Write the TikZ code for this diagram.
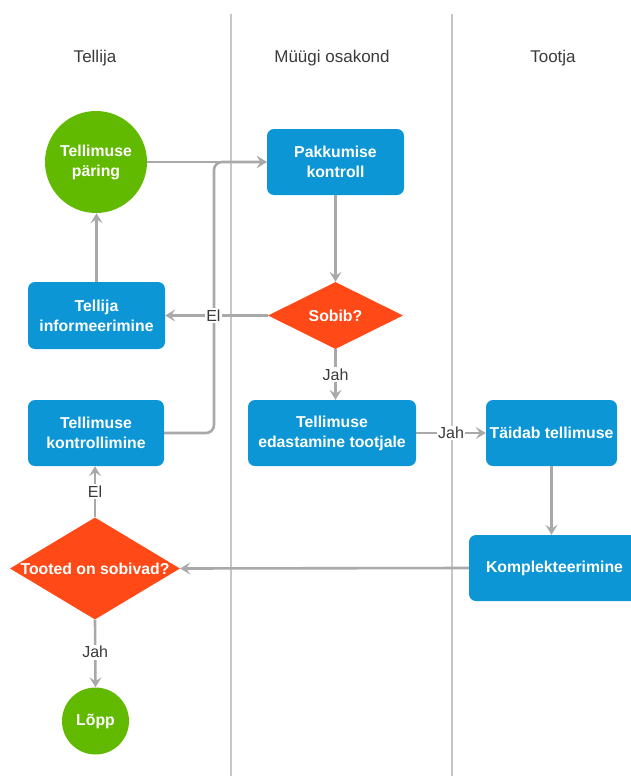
\documentclass[tikz,border=0pt]{standalone}
\usepackage{fontspec}
\setmainfont{Liberation Sans}
\usetikzlibrary{shapes.geometric,arrows.meta}
\definecolor{lanegray}{HTML}{C6C6C6}
\definecolor{titlegray}{HTML}{3A3A3A}
\definecolor{taskblue}{HTML}{0C96D6}
\definecolor{startgreen}{HTML}{62BA00}
\definecolor{decisionred}{HTML}{FF4A18}
\definecolor{arrowgray}{HTML}{A9A9A9}
\definecolor{labelgray}{HTML}{3A3A3A}
\begin{document}
\begin{tikzpicture}[x=1pt,y=-1pt,
  lane/.style={draw=lanegray,line width=1.2pt},
  lanetitle/.style={text=titlegray,font=\fontsize{17}{19}\selectfont,inner sep=0pt},
  nodetext/.style={text=white,font=\bfseries\fontsize{15.8}{20}\selectfont,align=center},
  task/.style={nodetext,fill=taskblue,rounded corners=7pt,inner sep=0pt,minimum height=66pt},
  terminal/.style={nodetext,circle,fill=startgreen,inner sep=0pt},
  decision/.style={diamond,fill=decisionred,inner sep=0pt},
  flow/.style={draw=arrowgray,line width=2.6pt,-{Stealth[length=10pt,width=12pt,inset=4pt]}},
  answer/.style={fill=white,text=labelgray,font=\fontsize{16}{18}\selectfont,inner sep=1.5pt}]
\useasboundingbox (0,0) rectangle (630,776);

% swimlane separators and titles
\coordinate (l1top) at (231,14);
\coordinate (l1bot) at (231,776);
\coordinate (l2top) at (452,14);
\coordinate (l2bot) at (452,776);
\draw[lane] (l1top) -- (l1bot);
\draw[lane] (l2top) -- (l2bot);
\node[lanetitle] (t1) at (95,58) {Tellija};
\node[lanetitle] (t2) at (332,58) {Müügi osakond};
\node[lanetitle] (t3) at (553,58) {Tootja};

% process steps
\node[terminal,minimum size=102pt] (req) at (96,162) {Tellimuse\\päring};
\node[task,minimum width=137pt] (pak) at (335.5,162) {Pakkumise\\kontroll};
\node[decision,minimum width=135pt,minimum height=67pt] (sob) at (335.5,315.5) {};
\node[nodetext] (sobt) at (335.5,315.5) {Sobib?};
\node[task,minimum width=137pt,minimum height=67pt] (inf) at (96.5,315.5) {Tellija\\informeerimine};
\node[task,minimum width=136pt] (kon) at (96,433) {Tellimuse\\kontrollimine};
\node[task,minimum width=168pt] (eda) at (332,433) {Tellimuse\\edastamine tootjale};
\node[task,minimum width=131pt] (tai) at (551.5,433) {Täidab tellimuse};
\node[task,minimum width=171pt] (kom) at (554.5,568) {Komplekteerimine};
\node[decision,minimum width=170pt,minimum height=102pt] (too) at (95,568.5) {};
\node[nodetext] (toot) at (95,568.5) {Tooted on sobivad?};
\node[terminal,minimum size=67pt] (lop) at (95.5,721) {Lõpp};

% connectors
\coordinate (bend) at (214,162);
\draw[flow,rounded corners=8pt] (kon.east) -| (bend) -- (pak.west);
\draw[flow] (req.east) -- (pak.west);
\draw[flow] (pak.south) -- (pak.south |- sob.north);
\draw[flow] (sob.west) -- node[answer,pos=0.53] (el1) {El} (inf.east);
\draw[flow] (inf.north) -- (inf.north |- req.south);
\draw[flow] (sob.south) -- node[answer] (jah1) {Jah} (sob.south |- eda.north);
\draw[flow] (eda.east) -- node[answer] (jah2) {Jah} (tai.west);
\draw[flow] (tai.south) -- (tai.south |- kom.north);
\draw[flow] (kom.west) -- (too.east);
\draw[flow] (too.north) -- node[answer] (el2) {El} (too.north |- kon.south);
\draw[flow] (too.south) -- node[answer,pos=0.48] (jah3) {Jah} (lop.north);
\end{tikzpicture}
\end{document}
